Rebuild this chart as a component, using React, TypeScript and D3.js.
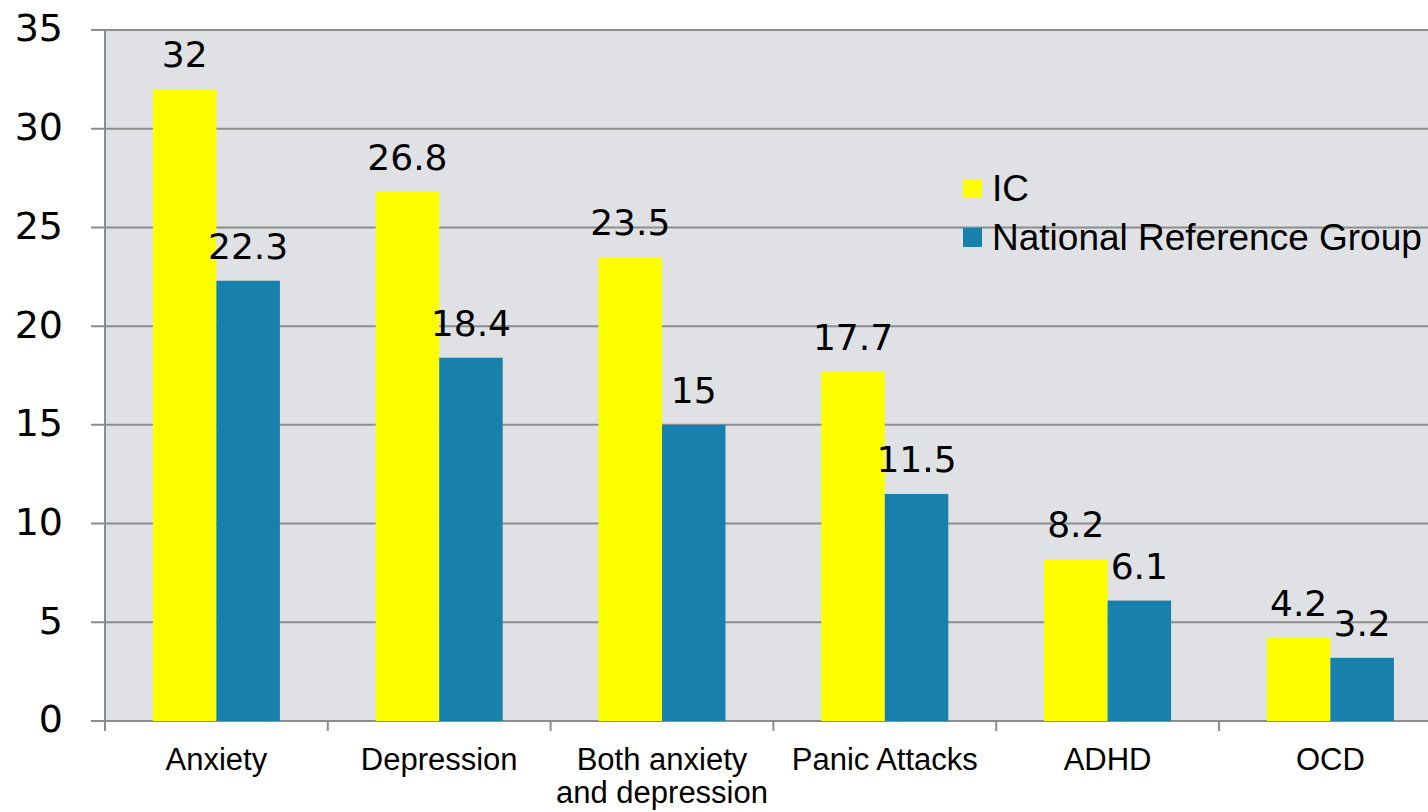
import * as d3 from "d3";

const categories = ["Anxiety", "Depression", "Both anxiety\nand depression", "Panic Attacks", "ADHD", "OCD"];
const seriesNames = ["IC", "National Reference Group"];
const icValues = [32, 26.8, 23.5, 17.7, 8.2, 4.2];
const nationalValues = [22.3, 18.4, 15, 11.5, 6.1, 3.2];
const yTicks = [0, 5, 10, 15, 20, 25, 30, 35];
const colors = ["#ffff00", "#1780ad"];

const W = 1428;
const H = 812;
const margin = { top: 30, left: 105, bottom: 91 };
const bandStep = 222.8;

export default function App() {
  const x = d3
    .scaleBand<string>()
    .domain(categories)
    .range([margin.left, margin.left + bandStep * categories.length])
    .paddingInner(0.43)
    .paddingOuter(0.215);
  const x1 = d3.scaleBand<string>().domain(seriesNames).range([0, x.bandwidth()]);
  const y = d3.scaleLinear().domain([0, 35]).range([H - margin.bottom, margin.top]);
  const plotRight = margin.left + bandStep * categories.length;
  const series = [icValues, nationalValues];
  const labelFont = "'DejaVu Sans', sans-serif";
  const textFont = "'Liberation Sans', Arial, sans-serif";

  return (
    <svg width={W} height={H} style={{ position: "absolute", left: 0, top: 0, display: "block" }}>
      <rect x={margin.left} y={y(35)} width={plotRight - margin.left} height={y(0) - y(35)} fill="#dfe1e4" />
      {yTicks.map((t) => (
        <g key={t}>
          <line x1={91} x2={plotRight} y1={y(t)} y2={y(t)} stroke="#8d8d8d" strokeWidth={2} />
          <text x={63} y={y(t)} dy="0.3em" textAnchor="end" fontFamily={labelFont} fontSize={38} fill="#000">
            {t}
          </text>
        </g>
      ))}
      <line x1={margin.left} x2={margin.left} y1={y(35)} y2={y(0) + 10} stroke="#8d8d8d" strokeWidth={2} />
      {categories.map((c, i) => (
        <line
          key={"tk" + i}
          x1={margin.left + bandStep * (i + 1)}
          x2={margin.left + bandStep * (i + 1)}
          y1={y(0)}
          y2={y(0) + 10}
          stroke="#8d8d8d"
          strokeWidth={2}
        />
      ))}
      {series.map((vals, si) =>
        vals.map((v, i) => {
          const bx = (x(categories[i]) ?? 0) + (x1(seriesNames[si]) ?? 0);
          return (
            <g key={si + "-" + i}>
              <rect x={bx} y={y(v)} width={x1.bandwidth()} height={y(0) - y(v)} fill={colors[si]} />
              <text
                x={bx + x1.bandwidth() / 2}
                y={y(v) - 22}
                textAnchor="middle"
                fontFamily={labelFont}
                fontSize={36}
                fill="#000"
              >
                {v}
              </text>
            </g>
          );
        })
      )}
      {categories.map((c) => (
        <text
          key={c}
          x={(x(c) ?? 0) + x.bandwidth() / 2}
          y={770}
          textAnchor="middle"
          fontFamily={textFont}
          fontSize={31}
          fill="#000"
        >
          {c.split("\n").map((line, li) => (
            <tspan key={li} x={(x(c) ?? 0) + x.bandwidth() / 2} dy={li === 0 ? 0 : 33}>
              {line}
            </tspan>
          ))}
        </text>
      ))}
      {seriesNames.map((s, i) => (
        <g key={s}>
          <rect x={963} y={179 + i * 49} width={19} height={19} fill={colors[i]} />
          <text x={992} y={201 + i * 49} fontFamily={textFont} fontSize={37} fill="#000">
            {s}
          </text>
        </g>
      ))}
    </svg>
  );
}
